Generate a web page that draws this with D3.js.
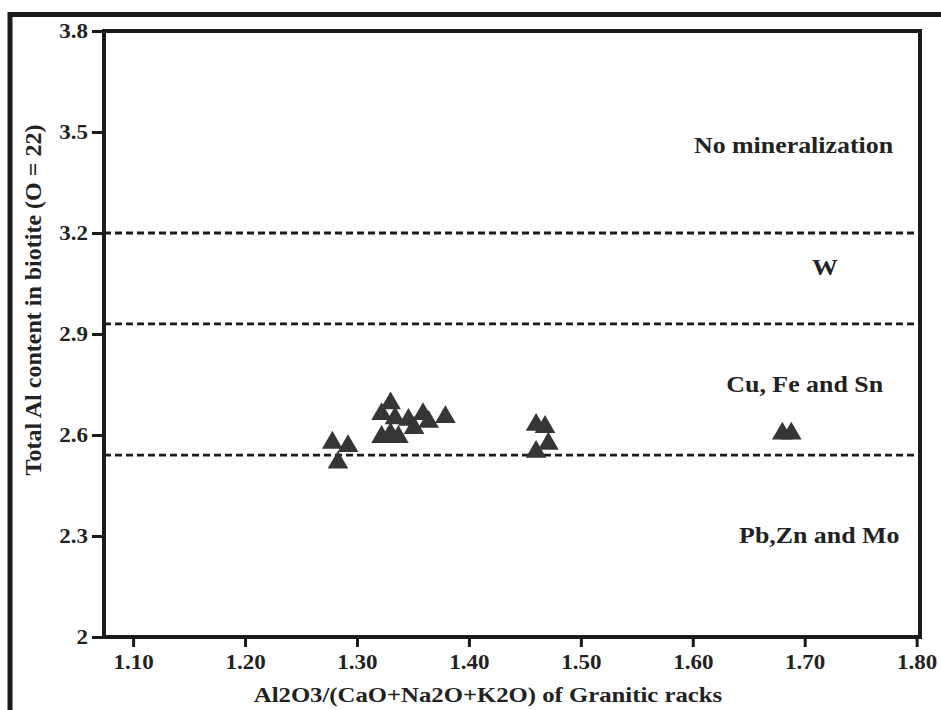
<!DOCTYPE html>
<html>
<head>
<meta charset="utf-8">
<title>Al in biotite</title>
<script src="https://d3js.org/d3.v7.min.js"></script>
<style>
  body { margin: 0; background: #fff; }
  text { font-family: "Liberation Serif", "Times New Roman", serif; font-weight: bold; fill: #222; }
</style>
</head>
<body>
<script>
// data
var ratio = [1.330, 1.322, 1.334, 1.346, 1.359, 1.379, 1.364, 1.351, 1.330, 1.322, 1.337,
             1.278, 1.292, 1.283, 1.460, 1.468, 1.471, 1.460, 1.680, 1.688];
var alTotal = [2.694, 2.662, 2.650, 2.645, 2.662, 2.653, 2.639, 2.621, 2.603, 2.594, 2.594,
               2.577, 2.567, 2.518, 2.630, 2.624, 2.574, 2.550, 2.604, 2.604];
var boundaries = [3.2, 2.93, 2.54];
var zoneNames = ["No mineralization", "W", "Cu, Fe and Sn", "Pb,Zn and Mo"];
var zoneY = [3.438, 3.075, 2.728, 2.279];
var zoneX = [1.690, 1.718, 1.700, 1.713];
var xTicks = [1.10, 1.20, 1.30, 1.40, 1.50, 1.60, 1.70, 1.80];
var yTicks = [3.8, 3.5, 3.2, 2.9, 2.6, 2.3, 2];

var W = 941, H = 710;
var m = {l: 104, r: 920, t: 31, b: 637};
var stretch = 1.15;

var svg = d3.select("body").append("svg")
  .attr("width", W)
  .attr("height", H);

var x = d3.scaleLinear().domain([1.074, 1.803]).range([m.l, m.r]);
var y = d3.scaleLinear().domain([2, 3.8]).range([m.b, m.t]);

// outer frame (only top and left survive the crop)
svg.append("path")
  .attr("d", "M10,710V14.5H941")
  .attr("fill", "none")
  .attr("stroke", "#1a1a1a")
  .attr("stroke-width", 5);

// zone boundaries
svg.selectAll("line.bound").data(boundaries).enter().append("line")
  .attr("class", "bound")
  .attr("x1", m.l).attr("x2", m.r)
  .attr("y1", function(d){ return y(d); })
  .attr("y2", function(d){ return y(d); })
  .attr("stroke", "#1a1a1a")
  .attr("stroke-width", 2.8)
  .attr("stroke-dasharray", "7,4");

// axes
var xAxis = svg.append("g")
  .attr("transform", "translate(0," + m.b + ")")
  .call(d3.axisBottom(x).tickValues(xTicks).tickFormat(d3.format(".2f")).tickSize(10).tickPadding(8));
var yAxis = svg.append("g")
  .attr("transform", "translate(" + m.l + ",0)")
  .call(d3.axisLeft(y).tickValues(yTicks).tickFormat(function(d){ return d === 2 ? "2" : d3.format(".1f")(d); }).tickSize(12).tickPadding(4));

[xAxis, yAxis].forEach(function(g){
  g.attr("font-family", null).attr("font-size", null);
  g.select(".domain").remove();
  g.selectAll(".tick line").attr("stroke", "#1a1a1a").attr("stroke-width", 3);
  g.selectAll(".tick text")
    .style("font-family", "'Liberation Serif', 'Times New Roman', serif")
    .style("font-weight", "bold")
    .style("font-size", "20px")
    .attr("fill", "#222");
});

// plot box
svg.append("rect")
  .attr("x", m.l).attr("y", m.t)
  .attr("width", m.r - m.l).attr("height", m.b - m.t)
  .attr("fill", "none")
  .attr("stroke", "#1a1a1a")
  .attr("stroke-width", 4);

// zone labels
svg.selectAll("text.zone").data(zoneNames).enter().append("text")
  .attr("class", "zone")
  .attr("x", function(d, i){ return x(zoneX[i]); })
  .attr("y", function(d, i){ return y(zoneY[i]); })
  .attr("text-anchor", "middle")
  .attr("font-size", 22.5)
  .text(function(d){ return d; });

// points
var tri = d3.symbol().type(d3.symbolTriangle).size(185);
svg.selectAll("path.pt").data(ratio).enter().append("path")
  .attr("class", "pt")
  .attr("d", tri)
  .attr("transform", function(d, i){ return "translate(" + x(d) + "," + y(alTotal[i]) + ")"; })
  .attr("fill", "#363636");

// axis titles
svg.append("text")
  .attr("x", 488)
  .attr("y", 702)
  .attr("text-anchor", "middle")
  .attr("font-size", 21.5)
  .text("Al2O3/(CaO+Na2O+K2O) of Granitic racks");

svg.append("text")
  .attr("transform", "translate(41,300) rotate(-90)")
  .attr("text-anchor", "middle")
  .attr("font-size", 24)
  .text("Total Al content in biotite (O = 22)");

// the source figure is a little wider than its type, stretch horizontal text to suit
svg.selectAll("text").filter(function(){ return !this.getAttribute("transform"); })
  .each(function(){
    var len = this.getComputedTextLength();
    d3.select(this).attr("textLength", len * stretch).attr("lengthAdjust", "spacingAndGlyphs");
  });
</script>
</body>
</html>
